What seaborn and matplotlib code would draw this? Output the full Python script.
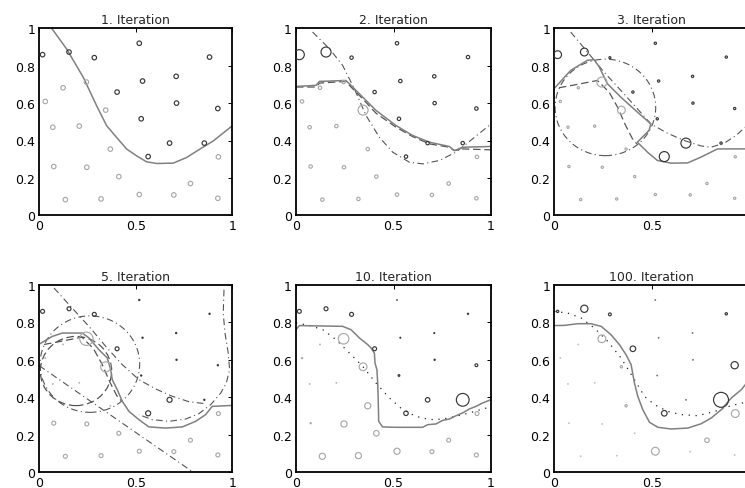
import numpy as np
import matplotlib
matplotlib.use("Agg")
import matplotlib.pyplot as plt
from matplotlib.patches import Ellipse
import seaborn as sns

# training points (same in every panel)
dark_x = [0.017, 0.154, 0.285, 0.518, 0.882, 0.535, 0.709, 0.403, 0.711, 0.925, 0.528, 0.675, 0.855, 0.564]
dark_y = [0.859, 0.873, 0.843, 0.920, 0.846, 0.718, 0.743, 0.659, 0.600, 0.571, 0.516, 0.386, 0.386, 0.314]
light_x = [0.031, 0.123, 0.244, 0.344, 0.070, 0.207, 0.368, 0.075, 0.246, 0.412, 0.783, 0.928,
           0.135, 0.320, 0.518, 0.697, 0.925]
light_y = [0.609, 0.682, 0.7125, 0.5625, 0.471, 0.477, 0.354, 0.261, 0.257, 0.207, 0.170, 0.3125,
           0.084, 0.0875, 0.111, 0.109, 0.091]

# point weights per iteration
dark_w1 = [1, 1, 1, 1, 1, 1, 1, 1, 1, 1, 1, 1, 1, 1]
light_w1 = [1, 1, 1, 1, 1, 1, 1, 1, 1, 1, 1, 1, 1, 1, 1, 1, 1]
dark_w2 = [2.0, 2.0, 0.8, 0.8, 0.8, 0.8, 0.8, 0.8, 0.8, 0.8, 0.8, 0.8, 0.8, 0.8]
light_w2 = [0.8, 0.8, 0.8, 2.0, 0.8, 0.8, 0.8, 0.8, 0.8, 0.8, 0.8, 0.8, 0.8, 0.8, 0.8, 0.8, 0.8]
dark_w3 = [1.6, 1.6, 0.55, 0.6, 0.6, 0.6, 0.6, 0.6, 0.6, 0.6, 0.6, 2.0, 0.6, 2.0]
light_w3 = [0.6, 0.6, 2.0, 1.6, 0.6, 0.6, 0.6, 0.6, 0.6, 0.6, 0.6, 0.6, 0.6, 0.6, 0.6, 0.6, 0.6]
dark_w5 = [0.9, 0.9, 0.9, 0.4, 0.4, 0.4, 0.4, 0.9, 0.4, 0.4, 0.4, 1.1, 0.4, 1.1]
light_w5 = [0.3, 0.3, 2.6, 2.0, 0.3, 0.3, 0.3, 0.9, 0.9, 0.9, 0.9, 0.9, 0.9, 0.9, 0.9, 0.9, 0.9]
dark_w10 = [0.9, 0.9, 0.9, 0.3, 0.4, 0.35, 0.35, 0.9, 0.4, 0.7, 0.5, 1.0, 2.5, 1.0]
light_w10 = [0.4, 0.3, 2.1, 1.6, 0.3, 0.3, 1.3, 0.4, 1.3, 1.2, 0.9, 0.9, 1.3, 1.3, 1.3, 0.9, 0.9]
dark_w100 = [0.6, 1.5, 0.7, 0.2, 0.6, 0.2, 0.2, 1.2, 0.2, 1.5, 0.2, 0.2, 2.9, 1.2]
light_w100 = [0.15, 0.15, 1.6, 0.6, 0.15, 0.15, 0.6, 0.15, 0.15, 0.15, 1.0, 1.6, 0.15, 0.15, 1.6, 0.15, 0.15]

# boundaries
b1_x = [0.064, 0.142, 0.228, 0.297, 0.349, 0.401, 0.453, 0.504, 0.556, 0.608, 0.694, 0.763, 0.832, 0.902, 1.0]
b1_y = [1.0, 0.889, 0.7375, 0.586, 0.479, 0.416, 0.354, 0.318, 0.286, 0.277, 0.279, 0.309, 0.354, 0.398, 0.479]

lrn1_x = [0.085, 0.171, 0.239, 0.299, 0.359, 0.427, 0.496, 0.581, 0.65, 0.735, 0.82, 0.906, 1.0]
lrn1_y = [0.98, 0.891, 0.802, 0.677, 0.534, 0.418, 0.3375, 0.284, 0.275, 0.293, 0.3375, 0.409, 0.489]
b2_x = [0.0, 0.103, 0.12, 0.256, 0.282, 0.342, 0.41, 0.513, 0.598, 0.684, 0.786, 0.812, 0.855, 1.0]
b2_y = [0.689, 0.695, 0.716, 0.721, 0.695, 0.632, 0.561, 0.48, 0.427, 0.391, 0.368, 0.346, 0.364, 0.368]
lrn2_x = [0.0, 0.103, 0.12, 0.256, 0.282, 0.342, 0.41, 0.513, 0.598, 0.684, 0.786, 0.812, 0.855, 1.0]
lrn2_y = [0.686, 0.686, 0.707, 0.716, 0.686, 0.623, 0.546, 0.471, 0.421, 0.382, 0.364, 0.346, 0.355, 0.35]

lrn3a_x = [0.084, 0.17, 0.255, 0.341, 0.426, 0.495, 0.58, 0.666, 0.752, 0.803, 0.872, 0.932, 0.979, 1.0]
lrn3a_y = [0.98, 0.873, 0.766, 0.668, 0.57, 0.489, 0.439, 0.4, 0.371, 0.364, 0.386, 0.427, 0.471, 0.49]
lrn3b_x = [0.024, 0.118, 0.221, 0.281, 0.324, 0.366, 0.401, 0.423]
lrn3b_y = [0.682, 0.7, 0.721, 0.659, 0.579, 0.48, 0.409, 0.382]
ring3 = (0.262, 0.577, 0.258)
b3_x = [0.003, 0.084, 0.17, 0.204, 0.229, 0.272, 0.341, 0.426, 0.495, 0.486, 0.426, 0.478, 0.529,
        0.598, 0.683, 0.752, 0.803, 0.837, 1.0]
b3_y = [0.682, 0.775, 0.829, 0.832, 0.796, 0.704, 0.632, 0.552, 0.489, 0.454, 0.391, 0.3375, 0.293,
        0.279, 0.28, 0.311, 0.3375, 0.355, 0.355]

lrn5a_x = [0.076, 0.162, 0.257, 0.344, 0.43, 0.516, 0.603, 0.689, 0.775, 0.862]
lrn5a_y = [0.984, 0.886, 0.779, 0.672, 0.574, 0.494, 0.444, 0.405, 0.376, 0.365]
lrn5b_x = [0.0, 0.796]
lrn5b_y = [0.568, 0.0]
lrn5c_x = [0.957, 0.953, 0.962, 0.979, 0.986, 0.969, 0.94, 0.888, 0.827, 0.758, 0.672, 0.585, 0.516]
lrn5c_y = [0.975, 0.85, 0.743, 0.636, 0.547, 0.476, 0.422, 0.36, 0.312, 0.283, 0.271, 0.28, 0.307]
ring5 = (0.19, 0.54, 0.185)
b5_x = [0.0, 0.067, 0.119, 0.223, 0.257, 0.309, 0.352, 0.37, 0.378, 0.404, 0.43, 0.465, 0.516, 0.568,
        0.655, 0.741, 0.81, 0.862, 0.896, 1.0]
b5_y = [0.684, 0.725, 0.743, 0.743, 0.717, 0.654, 0.61, 0.547, 0.494, 0.44, 0.378, 0.324, 0.28, 0.241,
        0.235, 0.241, 0.271, 0.307, 0.351, 0.356]

b10_x = [0.0, 0.017, 0.239, 0.282, 0.325, 0.368, 0.385, 0.402, 0.405, 0.415, 0.419, 0.422, 0.424, 0.444,
         0.513, 0.65, 0.675, 0.718, 0.752, 0.786, 0.821, 0.855, 0.889, 0.923, 0.957, 1.0]
b10_y = [0.761, 0.783, 0.779, 0.761, 0.717, 0.681, 0.663, 0.636, 0.583, 0.547, 0.476, 0.369, 0.271, 0.241,
         0.239, 0.239, 0.253, 0.257, 0.276, 0.283, 0.301, 0.316, 0.337, 0.351, 0.369, 0.387]
true10_x = [0.0, 0.068, 0.137, 0.205, 0.274, 0.342, 0.41, 0.479, 0.547, 0.615, 0.684, 0.752, 0.82, 0.889, 0.957, 1.0]
true10_y = [0.797, 0.784, 0.761, 0.708, 0.636, 0.565, 0.476, 0.396, 0.333, 0.298, 0.28, 0.283, 0.298, 0.316, 0.337, 0.348]

b100_x = [0.0, 0.051, 0.12, 0.188, 0.24, 0.291, 0.334, 0.368, 0.394, 0.411, 0.428, 0.454, 0.488, 0.531,
          0.599, 0.685, 0.753, 0.805, 0.856, 0.908, 0.959, 1.0]
b100_y = [0.783, 0.784, 0.793, 0.793, 0.779, 0.734, 0.681, 0.627, 0.574, 0.476, 0.405, 0.333, 0.266, 0.239,
          0.23, 0.235, 0.258, 0.289, 0.333, 0.396, 0.44, 0.494]
true100_x = [0.0, 0.068, 0.137, 0.205, 0.274, 0.342, 0.411, 0.462, 0.514, 0.582, 0.651, 0.736, 0.822, 0.908, 1.0]
true100_y = [0.859, 0.85, 0.824, 0.77, 0.699, 0.61, 0.494, 0.405, 0.36, 0.324, 0.307, 0.301, 0.324, 0.355, 0.378]

titles = ["1. Iteration", "2. Iteration", "3. Iteration", "5. Iteration", "10. Iteration", "100. Iteration"]
xticks = [0, 0.5, 1]
xticklabels = ["0", "0.5", "1"]
yticks = [0, 0.2, 0.4, 0.6, 0.8, 1]
yticklabels = ["0", "0.2", "0.4", "0.6", "0.8", "1"]

DARK = "#383838"
LIGHT = "#a9a9a9"
SOLID = "#808080"
LEARN = "#555555"
DASHDOT = (0, (6, 3, 1, 3))
DASHED = (0, (6, 3))
DOTTED = (0, (1, 4.5))

# per panel: weights, lines (x, y, style), rings
panels = [
    (dark_w1, light_w1, [(b1_x, b1_y, "solid")], []),
    (dark_w2, light_w2, [(lrn1_x, lrn1_y, "dashdot"), (lrn2_x, lrn2_y, "dashed"), (b2_x, b2_y, "solid")], []),
    (dark_w3, light_w3, [(lrn3a_x, lrn3a_y, "dashdot"), (lrn3b_x, lrn3b_y, "dashed"), (b3_x, b3_y, "solid")],
     [(ring3, "dashdot")]),
    (dark_w5, light_w5, [(lrn5a_x, lrn5a_y, "dashdot"), (lrn5b_x, lrn5b_y, "dashdot"),
                         (lrn5c_x, lrn5c_y, "dashdot"), (lrn3b_x, lrn3b_y, "dashed"), (b5_x, b5_y, "solid")],
     [(ring3, "dashdot"), (ring5, "dashed")]),
    (dark_w10, light_w10, [(true10_x, true10_y, "dotted"), (b10_x, b10_y, "solid")], []),
    (dark_w100, light_w100, [(true100_x, true100_y, "dotted"), (b100_x, b100_y, "solid")], []),
]

styles = {
    "solid": dict(color=SOLID, linewidth=1.1, linestyle="-"),
    "dashdot": dict(color=LEARN, linewidth=0.8, linestyle=DASHDOT),
    "dashed": dict(color=LEARN, linewidth=0.9, linestyle=DASHED),
    "dotted": dict(color="#222222", linewidth=0.9, linestyle=DOTTED),
}

sns.set_style("white")
plt.rcParams["font.family"] = ["DejaVu Sans"]

W, H = 745, 489
fig = plt.figure(figsize=(W / 100, H / 100), dpi=100)
lefts = [39.3, 296, 554.3]
widths = [193, 195, 195]
tops = [29.3, 286]
ph = 187


def marker_area(w):
    d_px = np.maximum(5.5 * np.asarray(w, dtype=float) - 1.0, 0.5)
    return (d_px * 0.72) ** 2


for i, (dw, lw_, lines, rings) in enumerate(panels):
    r, c = divmod(i, 3)
    ax = fig.add_axes([lefts[c] / W, 1 - (tops[r] + ph) / H, widths[c] / W, ph / H])
    for lx, ly, st in lines:
        sns.lineplot(x=lx, y=ly, sort=False, estimator=None, ax=ax, **styles[st])
    for (cx, cy, rad), st in rings:
        s = styles[st]
        ax.add_patch(Ellipse((cx, cy), 2 * rad, 2 * rad, fill=False, edgecolor=s["color"],
                             linewidth=s["linewidth"], linestyle=s["linestyle"]))
    sns.scatterplot(x=light_x, y=light_y, s=marker_area(lw_), color=LIGHT, facecolor="none",
                    edgecolor=LIGHT, linewidth=0.85, ax=ax, zorder=3)
    sns.scatterplot(x=dark_x, y=dark_y, s=marker_area(dw), color=DARK, facecolor="none",
                    edgecolor=DARK, linewidth=0.85, ax=ax, zorder=3)
    ax.set_xlim(0, 1)
    ax.set_ylim(0, 1)
    ax.set_xticks(xticks)
    # the right column runs past the figure edge, its "1" falls outside
    ax.set_xticklabels(xticklabels if c < 2 else xticklabels[:2] + [""])
    ax.set_yticks(yticks)
    ax.set_yticklabels(yticklabels)
    ax.tick_params(direction="in", top=True, right=True, length=3, width=0.7,
                   labelsize=9, pad=3, colors="black")
    for sp in ax.spines.values():
        sp.set_visible(True)
        sp.set_color("black")
        sp.set_linewidth(1.3)
    ax.set_title(titles[i], fontsize=9, pad=3.5)

fig.savefig("out.png", dpi=100)
